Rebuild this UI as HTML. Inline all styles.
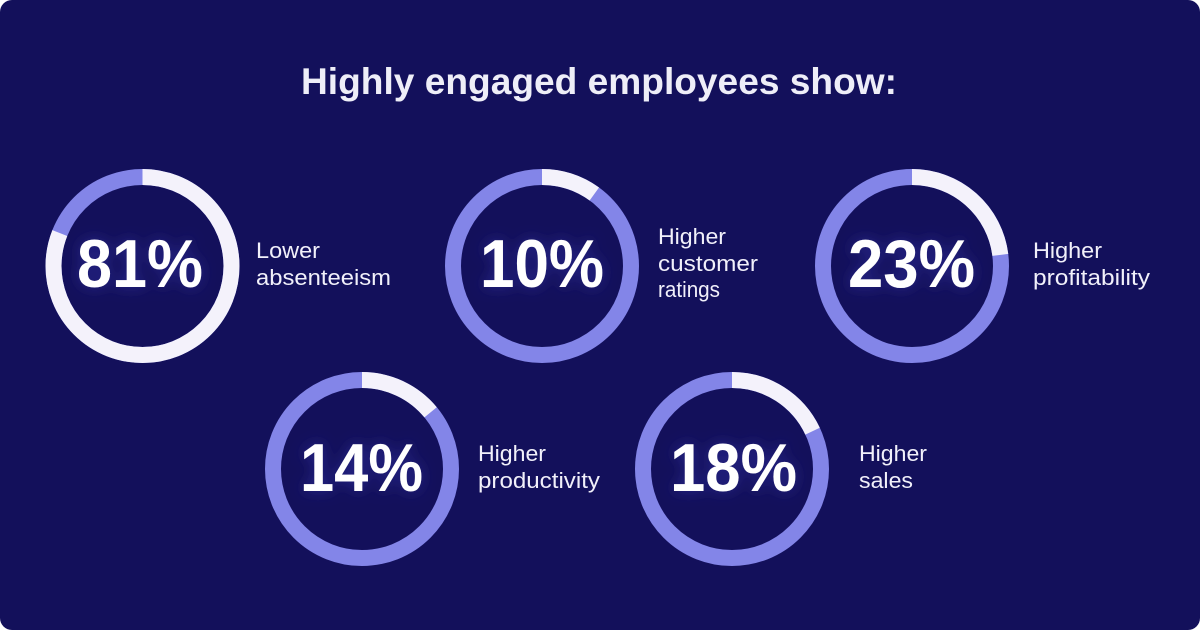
<!DOCTYPE html>
<html>
<head>
<meta charset="utf-8">
<style>
  html, body { margin: 0; padding: 0; background: #ffffff; }
  body { width: 1200px; height: 630px; overflow: hidden; }
  svg { display: block; }
  .num { font-family: "Liberation Sans", Arial, sans-serif; font-weight: 700; font-size: 68px; fill: #ffffff; }
  .lbl { font-family: "Liberation Sans", Arial, sans-serif; font-weight: 400; font-size: 22px; fill: #f1f0fa; }
  .ttl { font-family: "Liberation Sans", Arial, sans-serif; font-weight: 700; font-size: 37px; fill: #eeeef8; }
</style>
</head>
<body>
<svg width="1200" height="630" viewBox="0 0 1200 630" xmlns="http://www.w3.org/2000/svg">
  <defs>
    <filter id="glow" x="-30%" y="-30%" width="160%" height="160%">
      <feGaussianBlur in="SourceAlpha" stdDeviation="7" result="b"/>
      <feFlood flood-color="#3b3bb8" flood-opacity="0.55"/>
      <feComposite in2="b" operator="in" result="g"/>
      <feMerge><feMergeNode in="g"/><feMergeNode in="SourceGraphic"/></feMerge>
    </filter>
  </defs>
  <rect x="0" y="0" width="1200" height="630" rx="12" ry="12" fill="#13105b"/>

  <text class="ttl" x="301" y="94" textLength="596" lengthAdjust="spacingAndGlyphs">Highly engaged employees show:</text>

  <!-- Ring 1: 81% -->
  <g transform="translate(142.5,266)">
    <circle r="89" fill="none" stroke="#8385e8" stroke-width="16"/>
    <circle r="89" fill="none" stroke="#f4f2fb" stroke-width="16" stroke-dasharray="452.95 559.2" transform="rotate(-90)"/>
  </g>
  <text class="num" x="140" y="287" text-anchor="middle" textLength="126" lengthAdjust="spacingAndGlyphs" filter="url(#glow)">81%</text>
  <text class="lbl" x="256" y="258" textLength="64" lengthAdjust="spacingAndGlyphs">Lower</text>
  <text class="lbl" x="256" y="285" textLength="135" lengthAdjust="spacingAndGlyphs">absenteeism</text>

  <!-- Ring 2: 10% -->
  <g transform="translate(542,266)">
    <circle r="89" fill="none" stroke="#8385e8" stroke-width="16"/>
    <circle r="89" fill="none" stroke="#f4f2fb" stroke-width="16" stroke-dasharray="55.92 559.2" transform="rotate(-90)"/>
  </g>
  <text class="num" x="542" y="287" text-anchor="middle" textLength="124" lengthAdjust="spacingAndGlyphs" filter="url(#glow)">10%</text>
  <text class="lbl" x="658" y="244" textLength="68" lengthAdjust="spacingAndGlyphs">Higher</text>
  <text class="lbl" x="658" y="271" textLength="100" lengthAdjust="spacingAndGlyphs">customer</text>
  <text class="lbl" x="658" y="297" textLength="62" lengthAdjust="spacingAndGlyphs">ratings</text>

  <!-- Ring 3: 23% -->
  <g transform="translate(912,266)">
    <circle r="89" fill="none" stroke="#8385e8" stroke-width="16"/>
    <circle r="89" fill="none" stroke="#f4f2fb" stroke-width="16" stroke-dasharray="128.62 559.2" transform="rotate(-90)"/>
  </g>
  <text class="num" x="911.5" y="287" text-anchor="middle" textLength="127" lengthAdjust="spacingAndGlyphs" filter="url(#glow)">23%</text>
  <text class="lbl" x="1033" y="258" textLength="69" lengthAdjust="spacingAndGlyphs">Higher</text>
  <text class="lbl" x="1033" y="285" textLength="117" lengthAdjust="spacingAndGlyphs">profitability</text>

  <!-- Ring 4: 14% -->
  <g transform="translate(362,469)">
    <circle r="89" fill="none" stroke="#8385e8" stroke-width="16"/>
    <circle r="89" fill="none" stroke="#f4f2fb" stroke-width="16" stroke-dasharray="78.29 559.2" transform="rotate(-90)"/>
  </g>
  <text class="num" x="361.5" y="491" text-anchor="middle" textLength="123" lengthAdjust="spacingAndGlyphs" filter="url(#glow)">14%</text>
  <text class="lbl" x="478" y="461" textLength="68" lengthAdjust="spacingAndGlyphs">Higher</text>
  <text class="lbl" x="478" y="488" textLength="122" lengthAdjust="spacingAndGlyphs">productivity</text>

  <!-- Ring 5: 18% -->
  <g transform="translate(732,469)">
    <circle r="89" fill="none" stroke="#8385e8" stroke-width="16"/>
    <circle r="89" fill="none" stroke="#f4f2fb" stroke-width="16" stroke-dasharray="100.66 559.2" transform="rotate(-90)"/>
  </g>
  <text class="num" x="733.5" y="491" text-anchor="middle" textLength="127" lengthAdjust="spacingAndGlyphs" filter="url(#glow)">18%</text>
  <text class="lbl" x="859" y="461" textLength="68" lengthAdjust="spacingAndGlyphs">Higher</text>
  <text class="lbl" x="859" y="488" textLength="54" lengthAdjust="spacingAndGlyphs">sales</text>
</svg>
</body>
</html>
